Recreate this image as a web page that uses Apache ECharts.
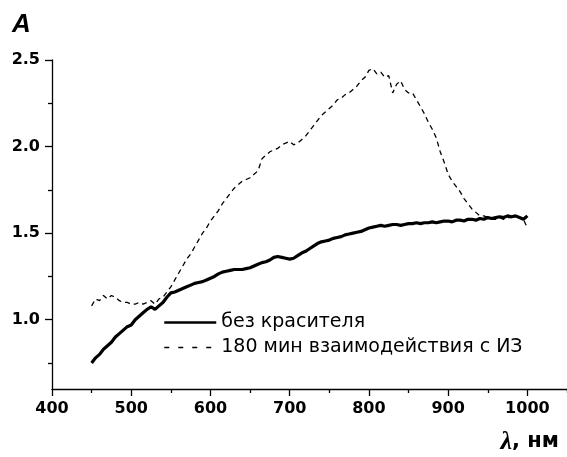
<!DOCTYPE html>
<html>
<head>
<meta charset="utf-8">
<script src="https://cdn.jsdelivr.net/npm/echarts@6/dist/echarts.min.js"></script>
<style>
html,body{margin:0;padding:0;background:#fff;}
#chart{width:567px;height:457px;}
</style>
</head>
<body>
<div id="chart"></div>
<script>
// Wavelengths, nm (450..1000 step 5)
const wavelengths = [
 450,455,460,465,470,475,480,485,490,495,
 500,505,510,515,520,525,530,535,540,545,
 550,555,560,565,570,575,580,585,590,595,
 600,605,610,615,620,625,630,635,640,645,
 650,655,660,665,670,675,680,685,690,695,
 700,705,710,715,720,725,730,735,740,745,
 750,755,760,765,770,775,780,785,790,795,
 800,805,810,815,820,825,830,835,840,845,
 850,855,860,865,870,875,880,885,890,895,
 900,905,910,915,920,925,930,935,940,945,
 950,955,960,965,970,975,980,985,990,995,
 1000
];
// "без красителя" (solid)
const noDye = [
 0.75,0.78,0.80,0.83,0.85,0.87,0.90,0.92,0.94,0.96,
 0.97,1.00,1.02,1.04,1.06,1.075,1.06,1.08,1.10,1.13,
 1.155,1.16,1.17,1.18,1.19,1.20,1.21,1.215,1.22,1.23,
 1.24,1.25,1.265,1.275,1.28,1.285,1.29,1.29,1.29,1.295,
 1.30,1.31,1.32,1.33,1.335,1.345,1.36,1.365,1.36,1.355,
 1.35,1.355,1.37,1.385,1.395,1.41,1.425,1.44,1.45,1.455,
 1.46,1.47,1.475,1.48,1.49,1.495,1.50,1.505,1.51,1.52,
 1.53,1.535,1.54,1.545,1.54,1.545,1.55,1.55,1.545,1.55,
 1.555,1.555,1.56,1.555,1.56,1.56,1.565,1.56,1.565,1.57,
 1.57,1.565,1.575,1.575,1.57,1.58,1.58,1.575,1.585,1.58,
 1.59,1.585,1.59,1.595,1.59,1.60,1.595,1.60,1.59,1.58,
 1.60
];
// "180 мин взаимодействия с ИЗ" (dashed)
const afterDye = [
 1.08,1.12,1.11,1.14,1.12,1.14,1.13,1.11,1.10,1.10,
 1.09,1.09,1.10,1.09,1.10,1.11,1.09,1.12,1.13,1.16,
 1.19,1.23,1.27,1.31,1.35,1.38,1.42,1.46,1.50,1.53,
 1.57,1.60,1.63,1.67,1.70,1.73,1.76,1.78,1.80,1.81,
 1.82,1.84,1.86,1.93,1.95,1.97,1.98,1.99,2.01,2.02,
 2.03,2.01,2.02,2.04,2.06,2.09,2.12,2.15,2.18,2.20,
 2.22,2.24,2.27,2.28,2.30,2.31,2.33,2.35,2.38,2.40,
 2.44,2.45,2.42,2.43,2.40,2.41,2.31,2.36,2.38,2.33,
 2.31,2.31,2.27,2.23,2.19,2.14,2.10,2.05,1.97,1.91,
 1.84,1.80,1.77,1.74,1.70,1.67,1.64,1.62,1.60,1.60,
 1.59,1.58,1.58,1.59,1.58,1.59,1.59,1.60,1.59,1.58,
 1.53
];
const xMajorTicks = [400,500,600,700,800,900,1000];
const xMinorTicks = [450,550,650,750,850,950,1050];
const yMajorTicks = [1.0,1.5,2.0,2.5];
const yMinorTicks = [0.75,1.25,1.75,2.25];
const seriesNames = ['без красителя','180 мин взаимодействия с ИЗ'];

const pairs = (ys) => wavelengths.map((x,i)=>[x, ys[i]]);
const tickFont = {fontFamily:'DejaVu Sans', fontWeight:'bold', fontSize:16, color:'#000'};

const chart = echarts.init(document.getElementById('chart'));
chart.setOption({
  animation:false,
  backgroundColor:'#fff',
  grid:{left:52, top:60, right:0, bottom:68, containLabel:false},
  xAxis:[
    {type:'value', min:400, max:1050, position:'bottom',
     axisLine:{onZero:false, lineStyle:{color:'#000', width:1.3}},
     axisTick:{customValues:xMajorTicks, length:7, lineStyle:{color:'#000', width:1.3}},
     axisLabel:Object.assign({customValues:xMajorTicks, margin:12, formatter:(v)=>String(v)}, tickFont),
     splitLine:{show:false}},
    {type:'value', min:400, max:1050, position:'bottom',
     axisLine:{show:false},
     axisTick:{customValues:xMinorTicks, length:4, lineStyle:{color:'#000', width:1.3}},
     axisLabel:{show:false}, splitLine:{show:false}}
  ],
  yAxis:[
    {type:'value', min:0.6, max:2.5, position:'left',
     axisLine:{show:true, onZero:false, lineStyle:{color:'#000', width:1.3}},
     axisTick:{show:true, customValues:yMajorTicks, length:7, lineStyle:{color:'#000', width:1.3}},
     axisLabel:Object.assign({customValues:yMajorTicks, margin:12, formatter:(v)=>v.toFixed(1)}, tickFont),
     splitLine:{show:false}},
    {type:'value', min:0.6, max:2.5, position:'left',
     axisLine:{show:false},
     axisTick:{show:true, customValues:yMinorTicks, length:4, lineStyle:{color:'#000', width:1.3}},
     axisLabel:{show:false}, splitLine:{show:false}}
  ],
  legend:{
    orient:'vertical', left:163, top:313,
    itemWidth:52, itemHeight:18, itemGap:6, padding:0,
    textStyle:{fontFamily:'DejaVu Sans', fontSize:19, color:'#000'},
    data:[
      {name:seriesNames[0], itemStyle:{opacity:0}, lineStyle:{width:2.5, opacity:1}},
      {name:seriesNames[1], itemStyle:{opacity:0}, lineStyle:{type:[5,9], width:1.3, opacity:1}}
    ]
  },
  series:[
    {name:seriesNames[0], type:'line', data:pairs(noDye), xAxisIndex:0, yAxisIndex:0,
     symbol:'none', lineStyle:{color:'#000', width:3.2}, itemStyle:{color:'#000'}},
    {name:seriesNames[1], type:'line', data:pairs(afterDye), xAxisIndex:0, yAxisIndex:0,
     symbol:'none', lineStyle:{color:'#000', width:1.3, type:[5,4]}, itemStyle:{color:'#000'}}
  ],
  graphic:[
    {type:'text', left:12, top:12, style:{text:'A', font:'italic bold 26px "Liberation Sans"', fill:'#000'}},
    {type:'text', right:8, bottom:2, style:{
      text:'{l|λ}{n|, нм}',
      rich:{
        l:{fontFamily:'Liberation Serif', fontStyle:'italic', fontWeight:'bold', fontSize:26, fill:'#000'},
        n:{fontFamily:'DejaVu Sans', fontWeight:'bold', fontSize:21, fill:'#000'}
      }}}
  ]
});
</script>
</body>
</html>
